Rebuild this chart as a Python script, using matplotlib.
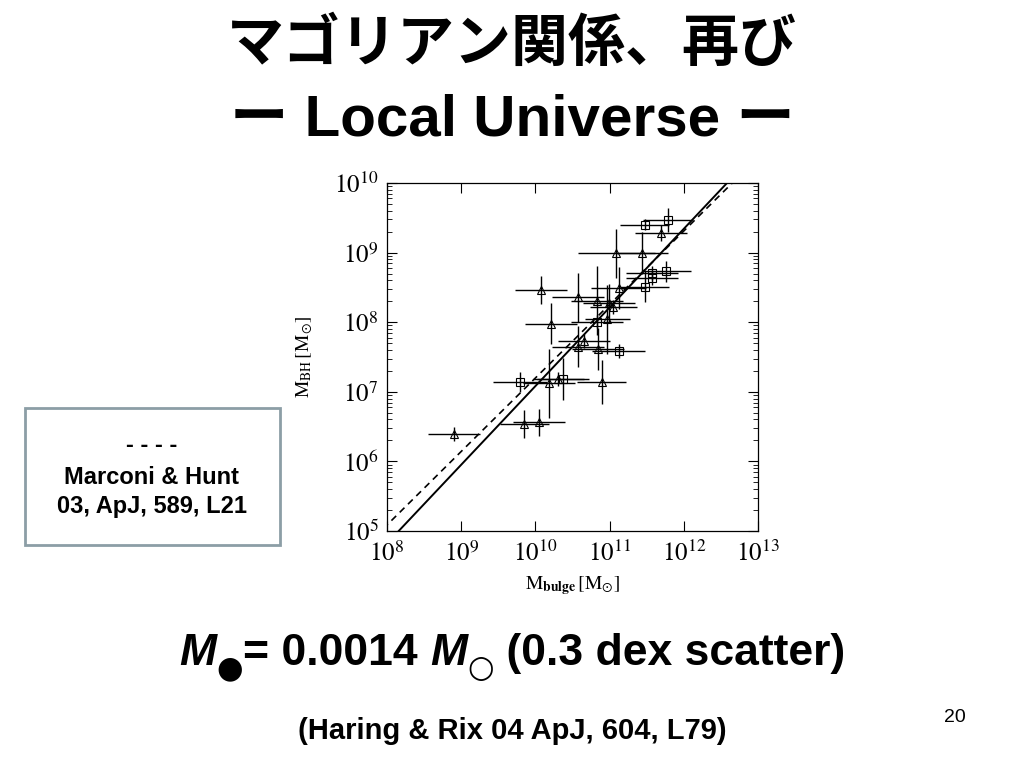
import matplotlib
matplotlib.use("Agg")
import matplotlib.pyplot as plt
from matplotlib import font_manager
from matplotlib.patches import Rectangle
from matplotlib.transforms import IdentityTransform
import numpy as np

# log10 values (M_bulge, M_BH, errors in dex)
tri_logx = [11.69, 11.09, 11.44, 10.08, 11.12, 10.57, 10.83, 10.99, 11.05, 10.21,
            10.97, 10.65, 10.57, 10.84, 10.18, 10.31, 10.89, 9.85, 10.05, 8.90]
tri_logy = [9.28, 8.99, 8.99, 8.46, 8.49, 8.36, 8.31, 8.27, 8.22, 7.98,
            8.04, 7.73, 7.65, 7.62, 7.12, 7.19, 7.14, 6.54, 6.56, 6.39]
tri_xerr = [0.35, 0.52, 0.35, 0.35, 0.37, 0.35, 0.35, 0.35, 0.32, 0.35,
            0.30, 0.35, 0.35, 0.35, 0.35, 0.35, 0.33, 0.33, 0.35, 0.35]
tri_yerr = [0.12, 0.35, 0.30, 0.20, 0.30, 0.35, 0.50, 0.28, 0.10, 0.30,
            0.50, 0.10, 0.30, 0.30, 0.50, 0.10, 0.32, 0.20, 0.20, 0.10]

sq_logx = [11.78, 11.47, 11.57, 11.57, 11.76, 11.47, 10.83, 11.12, 9.79, 10.37]
sq_logy = [9.47, 9.40, 8.71, 8.63, 8.73, 8.51, 8.01, 7.58, 7.14, 7.18]
sq_xerr = [0.33, 0.33, 0.35, 0.35, 0.33, 0.33, 0.35, 0.36, 0.36, 0.35]
sq_yerr = [0.17, 0.08, 0.10, 0.10, 0.15, 0.22, 0.10, 0.10, 0.15, 0.30]

# fits: log M_BH = a + b (log M_bulge - 10.9)
haring_a, haring_b = 8.10, 1.13
marconi_a, marconi_b = 8.15, 1.056

xlim = (1e8, 1e13)
ylim = (1e5, 1e10)

names = {f.name for f in font_manager.fontManager.ttflist}
sans = "Liberation Sans Narrow" if "Liberation Sans Narrow" in names else "Liberation Sans"
jp = "Noto Sans CJK JP"

plt.rcParams["mathtext.fontset"] = "stix"

fig = plt.figure(figsize=(10.24, 7.68), dpi=100)
ax = fig.add_axes([0.378, 0.3086, 0.3623, 0.4531])


def log_errbar(lx, ly, ex, ey, marker):
    lx, ly, ex, ey = map(np.array, (lx, ly, ex, ey))
    x = 10 ** lx
    y = 10 ** ly
    xe = [x - 10 ** (lx - ex), 10 ** (lx + ex) - x]
    ye = [y - 10 ** (ly - ey), 10 ** (ly + ey) - y]
    ax.errorbar(x, y, xerr=xe, yerr=ye, fmt=marker, mfc="none", mec="black",
                ms=5.5, mew=0.8, ecolor="black", elinewidth=1.0, capsize=0)


log_errbar(tri_logx, tri_logy, tri_xerr, tri_yerr, "^")
log_errbar(sq_logx, sq_logy, sq_xerr, sq_yerr, "s")

lx = np.linspace(7.5, 13.5, 50)
ax.plot(10 ** lx, 10 ** (haring_a + haring_b * (lx - 10.9)), color="black", lw=1.4)
ax.plot(10 ** lx, 10 ** (marconi_a + marconi_b * (lx - 10.9)), color="black",
        lw=1.2, ls=(0, (4, 3)))

ax.set_xscale("log")
ax.set_yscale("log")
ax.set_xlim(xlim)
ax.set_ylim(ylim)
ax.set_xticks([10 ** k for k in range(8, 14)])
ax.set_yticks([10 ** k for k in range(5, 11)])
ax.set_xticklabels([rf"$10^{{{k}}}$" for k in range(8, 14)])
ax.set_yticklabels([rf"$10^{{{k}}}$" for k in range(5, 11)])
ax.tick_params(which="both", direction="in", top=True, right=True)
ax.tick_params(which="major", length=7, width=0.8, labelsize=18)
ax.tick_params(axis="x", which="major", pad=7)
ax.tick_params(axis="y", which="major", pad=6)
ax.tick_params(which="minor", length=3.5, width=0.6)
for s in ax.spines.values():
    s.set_linewidth(0.9)

ax.set_xlabel(r"$\mathrm{M}_{\mathbf{bulge}}\,\left[\mathrm{M}_{\odot}\right]$",
              fontsize=14, labelpad=6)
ax.set_ylabel(r"$\mathrm{M}_{\mathrm{BH}}\,\left[\mathrm{M}_{\odot}\right]$",
              fontsize=14, labelpad=14)

# titles
fig.text(0.5, 1 - 44 / 768, "マゴリアン関係、再び", ha="center", va="center",
         fontsize=41, fontweight="bold", family=[jp, "DejaVu Sans"])
fig.text(0.5, 1 - 120 / 768, "ー Local Universe ー", ha="center", va="center",
         fontsize=42, fontweight="bold", family=[sans, jp, "DejaVu Sans"])

# legend box for the dashed line
fig.patches.append(Rectangle((25 / 1024, 1 - 545 / 768), 255 / 1024, 137 / 768,
                             transform=fig.transFigure, fill=False,
                             edgecolor="#8c9ea6", lw=2))
box_x = 152 / 1024
fig.text(box_x, 1 - 445 / 768, "- - - -", ha="center", va="center", fontsize=17,
         fontweight="bold", family=[sans])
fig.text(box_x, 1 - 477 / 768, "Marconi & Hunt", ha="center", va="center",
         fontsize=17, fontweight="bold", family=[sans])
fig.text(box_x, 1 - 507 / 768, "03, ApJ, 589, L21", ha="center", va="center",
         fontsize=17, fontweight="bold", family=[sans])

# equation line built from pieces on a common baseline
renderer = fig.canvas.get_renderer()
pieces = [
    ("M", dict(fontsize=32, fontweight="bold", style="italic", family=[sans]), 0),
    ("●", dict(fontsize=22, family=["DejaVu Sans"]), -12),
    ("= 0.0014 ", dict(fontsize=32, fontweight="bold", family=[sans]), 0),
    ("M", dict(fontsize=32, fontweight="bold", style="italic", family=[sans]), 0),
    ("○", dict(fontsize=22, family=["DejaVu Sans"]), -12),
    (" (0.3 dex scatter)", dict(fontsize=32, fontweight="bold", family=[sans]), 0),
]
baseline = 768 - 665
texts = []
x = 0.0
for s, kw, dy in pieces:
    t = fig.text(x, baseline + dy, s, transform=IdentityTransform(),
                 ha="left", va="baseline", **kw)
    w = t.get_window_extent(renderer).width
    texts.append((t, x, dy))
    x += w
start = 512 - x / 2
for t, px, dy in texts:
    t.set_position((start + px, baseline + dy))

fig.text(512 / 1024, 1 - 731 / 768, "(Haring & Rix 04 ApJ, 604, L79)", ha="center",
         va="center", fontsize=21, fontweight="bold", family=[sans])
fig.text(955 / 1024, 1 - 718 / 768, "20", ha="center", va="center", fontsize=14,
         family=[sans])

fig.savefig("out.png", dpi=100)
